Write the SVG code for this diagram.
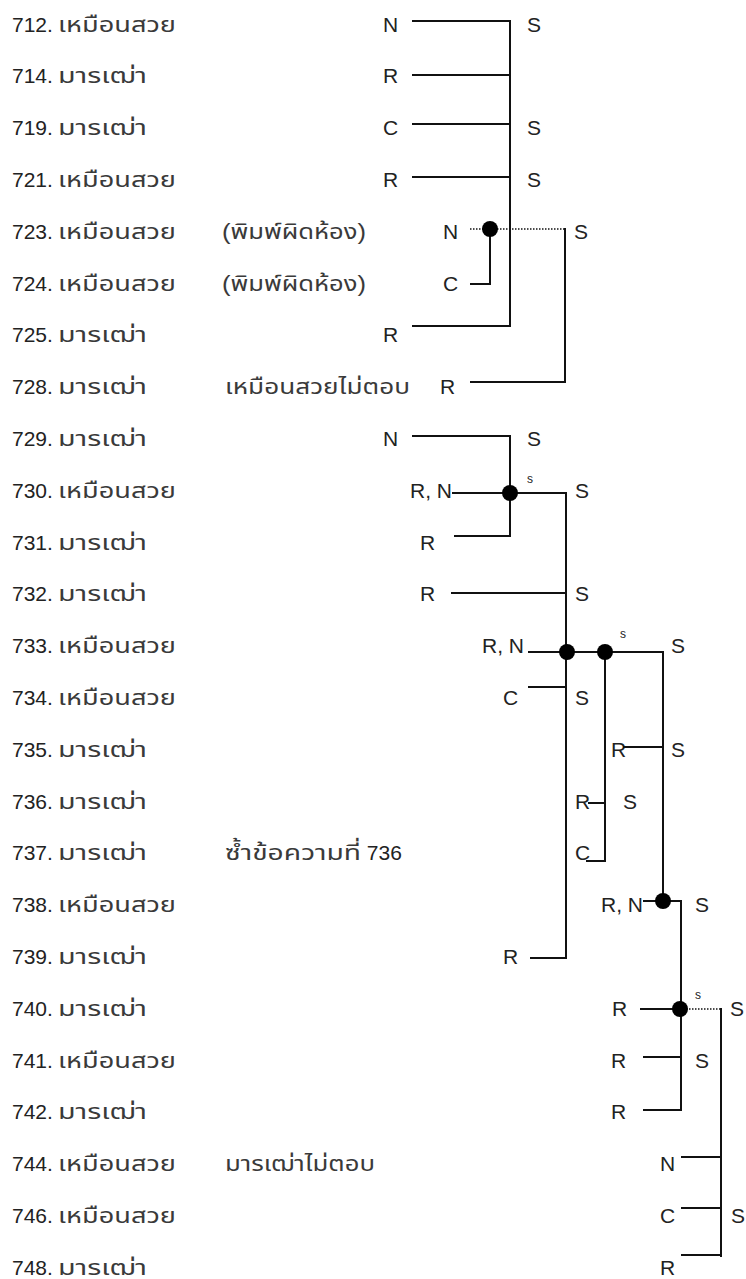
<svg xmlns="http://www.w3.org/2000/svg" width="746" height="1279" viewBox="0 0 746 1279">
<style>
text{font-family:"Liberation Sans",Arial,"Noto Sans Thai","Noto Sans",sans-serif;font-size:21px;fill:#222}
.th{font-size:22px;fill:#3a3a3a}
.sm{font-size:12px}
.e{text-anchor:end}
.ln{stroke:#111;stroke-width:2;fill:none}
.dt{stroke:#111;stroke-width:1.5;stroke-dasharray:1.5 1.5;fill:none}
.dot{fill:#000}
</style>
<defs>
<text id="hm" class="th" x="58" textLength="118" lengthAdjust="spacingAndGlyphs">เหมือนสวย</text>
<text id="mr" class="th" x="58" textLength="89" lengthAdjust="spacingAndGlyphs">มารเฒ่า</text>
</defs>
<rect width="746" height="1279" fill="#fff"/>
<g id="rows">
<text x="12" y="31.5">712.</text><use href="#hm" y="31.5"/>
<text x="12" y="83.3">714.</text><use href="#mr" y="83.3"/>
<text x="12" y="135.1">719.</text><use href="#mr" y="135.1"/>
<text x="12" y="186.9">721.</text><use href="#hm" y="186.9"/>
<text x="12" y="238.7">723.</text><use href="#hm" y="238.7"/>
<text x="12" y="290.5">724.</text><use href="#hm" y="290.5"/>
<text x="12" y="342.3">725.</text><use href="#mr" y="342.3"/>
<text x="12" y="394.1">728.</text><use href="#mr" y="394.1"/>
<text x="12" y="445.9">729.</text><use href="#mr" y="445.9"/>
<text x="12" y="497.7">730.</text><use href="#hm" y="497.7"/>
<text x="12" y="549.5">731.</text><use href="#mr" y="549.5"/>
<text x="12" y="601.3">732.</text><use href="#mr" y="601.3"/>
<text x="12" y="653.1">733.</text><use href="#hm" y="653.1"/>
<text x="12" y="704.9">734.</text><use href="#hm" y="704.9"/>
<text x="12" y="756.7">735.</text><use href="#mr" y="756.7"/>
<text x="12" y="808.5">736.</text><use href="#mr" y="808.5"/>
<text x="12" y="860.3">737.</text><use href="#mr" y="860.3"/>
<text x="12" y="912.1">738.</text><use href="#hm" y="912.1"/>
<text x="12" y="963.9">739.</text><use href="#mr" y="963.9"/>
<text x="12" y="1015.7">740.</text><use href="#mr" y="1015.7"/>
<text x="12" y="1067.5">741.</text><use href="#hm" y="1067.5"/>
<text x="12" y="1119.3">742.</text><use href="#mr" y="1119.3"/>
<text x="12" y="1171.1">744.</text><use href="#hm" y="1171.1"/>
<text x="12" y="1222.9">746.</text><use href="#hm" y="1222.9"/>
<text x="12" y="1274.7">748.</text><use href="#mr" y="1274.7"/>
</g>
<g id="notes">
<text class="th" x="222" y="238.7" textLength="144" lengthAdjust="spacingAndGlyphs">(พิมพ์ผิดห้อง)</text>
<text class="th" x="222" y="290.5" textLength="144" lengthAdjust="spacingAndGlyphs">(พิมพ์ผิดห้อง)</text>
<text class="th" x="225" y="394.1" textLength="185" lengthAdjust="spacingAndGlyphs">เหมือนสวยไม่ตอบ</text>
<text x="225" y="860.3"><tspan class="th" textLength="136" lengthAdjust="spacingAndGlyphs">ซ้ำข้อความที่</tspan> 736</text>
<text class="th" x="225" y="1171.1" textLength="150" lengthAdjust="spacingAndGlyphs">มารเฒ่าไม่ตอบ</text>
</g>
<g id="group1">
<text x="383" y="31.5">N</text>
<text x="383" y="83.3">R</text>
<text x="383" y="135.1">C</text>
<text x="383" y="186.9">R</text>
<text x="443" y="238.7">N</text>
<text x="443" y="290.5">C</text>
<text x="383" y="342.3">R</text>
<text x="440" y="394.1">R</text>
<text x="527" y="31.5">S</text>
<text x="527" y="135.1">S</text>
<text x="527" y="186.9">S</text>
<text x="574" y="238.7">S</text>
</g>
<g id="group2">
<text x="383" y="445.9">N</text>
<text x="527" y="445.9">S</text>
<text class="e" x="452" y="497.7">R, N</text>
<text class="sm" x="527" y="483">s</text>
<text x="575" y="497.7">S</text>
<text x="420" y="549.5">R</text>
<text x="420" y="601.3">R</text>
<text x="575" y="601.3">S</text>
<text class="e" x="524" y="653.1">R, N</text>
<text class="sm" x="620" y="638">s</text>
<text x="671" y="653.1">S</text>
<text x="503" y="704.9">C</text>
<text x="575" y="704.9">S</text>
<text x="611" y="756.7">R</text>
<text x="671" y="756.7">S</text>
<text x="575" y="808.5">R</text>
<text x="623" y="808.5">S</text>
<text x="575" y="860.3">C</text>
<text class="e" x="643" y="912.1">R, N</text>
<text x="695" y="912.1">S</text>
<text x="503" y="963.9">R</text>
</g>
<g id="group3">
<text x="612" y="1015.7">R</text>
<text class="sm" x="695" y="999">s</text>
<text x="730" y="1015.7">S</text>
<text x="611" y="1067.5">R</text>
<text x="695" y="1067.5">S</text>
<text x="611" y="1119.3">R</text>
<text x="660" y="1171.1">N</text>
<text x="660" y="1222.9">C</text>
<text x="731" y="1222.9">S</text>
<text x="660" y="1274.7">R</text>
</g>
<g id="connectors">
<path class="ln" d="M412 21H510M412 75H510M412 124H510M412 177H510M412 326H510M510 20V327"/>
<path class="dt" d="M470 229H565"/>
<path class="ln" d="M565 228V383M470 382H566M490 229V284M470 284H491"/>
<path class="ln" d="M412 436H510M510 435V537M452 493H566M454 536H510M451 593H566M566 492V959M530 958H566"/>
<path class="ln" d="M528 652H663M663 651V902M605 652V862M528 687H566M623 747H663M588 803H605M586 861H606M643 901H681M681 900V1111"/>
<path class="ln" d="M640 1009H680M643 1057H681M643 1110H681"/>
<path class="dt" d="M680 1009H721"/>
<path class="ln" d="M721 1008V1257M681 1157H721M681 1208H721M681 1255H722"/>
<circle class="dot" cx="490" cy="229" r="8"/>
<circle class="dot" cx="510" cy="493" r="8"/>
<circle class="dot" cx="567" cy="652" r="8"/>
<circle class="dot" cx="605" cy="652" r="8"/>
<circle class="dot" cx="663" cy="901" r="8"/>
<circle class="dot" cx="680" cy="1009" r="8"/>
</g>
</svg>
